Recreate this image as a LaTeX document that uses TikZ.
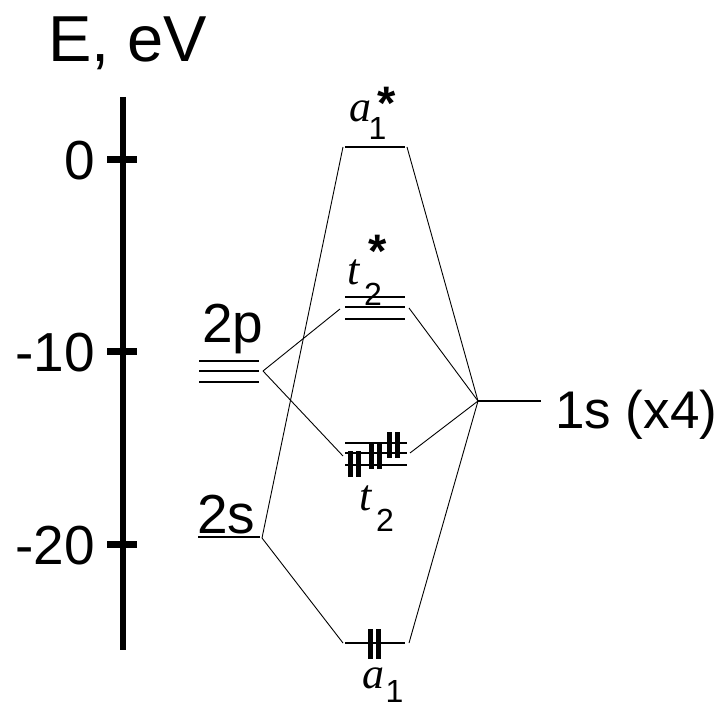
\documentclass[tikz,border=0pt]{standalone}
\usepackage{fontspec}
\setmainfont{Liberation Sans}
\newfontfamily\lserif{Liberation Serif}
\newcommand{\fsz}[1]{\fontsize{#1}{#1}\selectfont}
\begin{document}
\begin{tikzpicture}[x=1pt,y=-1pt,
  lbl/.style={inner sep=0pt,anchor=base west,font=\fsz{55}},
  tlbl/.style={inner sep=0pt,anchor=base east,font=\fsz{55}},
  orb/.style={inner sep=0pt,anchor=base west,font=\fsz{44}\lserif\itshape},
  sub/.style={inner sep=0pt,anchor=base west,font=\fsz{32}},
  star/.style={inner sep=0pt,anchor=base west,font=\fsz{47}\bfseries},
  level/.style={line width=1.3pt},
  conn/.style={line width=0.9pt},
  ebar/.style={fill=black,inner sep=0pt,minimum width=5pt,minimum height=26pt},
  axisline/.style={line width=6pt},
  tick/.style={line width=7pt}]
\useasboundingbox (0,0) rectangle (720,708);

% axis
\coordinate (axtop) at (123,97);
\coordinate (axbot) at (123,650);
\draw[axisline] (axtop) -- (axbot);
\node[lbl,font=\fsz{65}] (elabel) at (48,62) {E, eV};
\foreach \y/\t [count=\i] in {160/0,352/-10,544/-20}{
  \coordinate (tl\i) at (107,\y);
  \coordinate (tr\i) at (137,\y);
  \draw[tick] (tl\i) -- (tr\i);
  \node[tlbl] (tk\i) at (95,\y+20) {\t};
}

% carbon 2p
\foreach \y [count=\i] in {361,371,382}{
  \coordinate (pl\i) at (199,\y); \coordinate (pr\i) at (259,\y);
  \draw[level] (pl\i) -- (pr\i);
}
\node[lbl] (lab2p) at (202,343) {2p};
\coordinate (p2) at (263,371);

% carbon 2s
\coordinate (sl) at (198,537); \coordinate (sr) at (260,537);
\draw[level] (sl) -- (sr);
\node[lbl] (lab2s) at (197,533) {2s};
\coordinate (s2) at (262,538);

% a1*
\coordinate (asl) at (345,147); \coordinate (asr) at (405,147);
\draw[level] (asl) -- (asr);
\coordinate (asL) at (343,147); \coordinate (asR) at (407,147);
\node[orb] (asa) at (349,122) {a};
\node[sub] (as1) at (368.5,140) {1};
\node[star] (ass) at (377,120) {*};

% t2*
\foreach \y [count=\i] in {297,307,319}{
  \coordinate (tsl\i) at (345,\y); \coordinate (tsr\i) at (405,\y);
  \draw[level] (tsl\i) -- (tsr\i);
}
\coordinate (tsL) at (340,309); \coordinate (tsR) at (409,308);
\node[orb] (tst) at (347,285) {t};
\node[sub] (ts2) at (364,306) {2};
\node[star] (tss) at (368,268) {*};

% t2
\foreach \y [count=\i] in {443,453,465}{
  \coordinate (tl\i) at (345,\y); \coordinate (tr\i) at (407,\y);
  \draw[level] (tl\i) -- (tr\i);
}
\coordinate (tL) at (343,456); \coordinate (tR) at (410,453);
\node[ebar] (e1) at (350.5,464) {};
\node[ebar] (e2) at (358.5,464) {};
\node[ebar] (e3) at (371,455.5) {};
\node[ebar] (e4) at (379,455.5) {};
\node[ebar] (e5) at (389,444.5) {};
\node[ebar] (e6) at (397,444.5) {};
\node[orb] (tt) at (359,510) {t};
\node[sub] (t2s) at (376,531) {2};

% a1
\coordinate (al) at (345,643); \coordinate (ar) at (405,643);
\draw[level] (al) -- (ar);
\coordinate (aL) at (343,643); \coordinate (aR) at (409,643);
\node[ebar,minimum height=30pt] (e7) at (370,644) {};
\node[ebar,minimum height=30pt] (e8) at (378,644) {};
\node[orb] (aa) at (362,688) {a};
\node[sub] (a1s) at (385.5,702) {1};

% hydrogen 1s
\coordinate (h) at (478,401); \coordinate (hr) at (541,401);
\draw[level] (h) -- (hr);
\node[lbl,font=\fsz{53}] (lab1s) at (555,428) {1s (x4)};

% connectors
\draw[conn] (s2) -- (asL);
\draw[conn] (asR) -- (h);
\draw[conn] (p2) -- (tsL);
\draw[conn] (tsR) -- (h);
\draw[conn] (p2) -- (tL);
\draw[conn] (tR) -- (h);
\draw[conn] (s2) -- (aL);
\draw[conn] (aR) -- (h);
\end{tikzpicture}
\end{document}
